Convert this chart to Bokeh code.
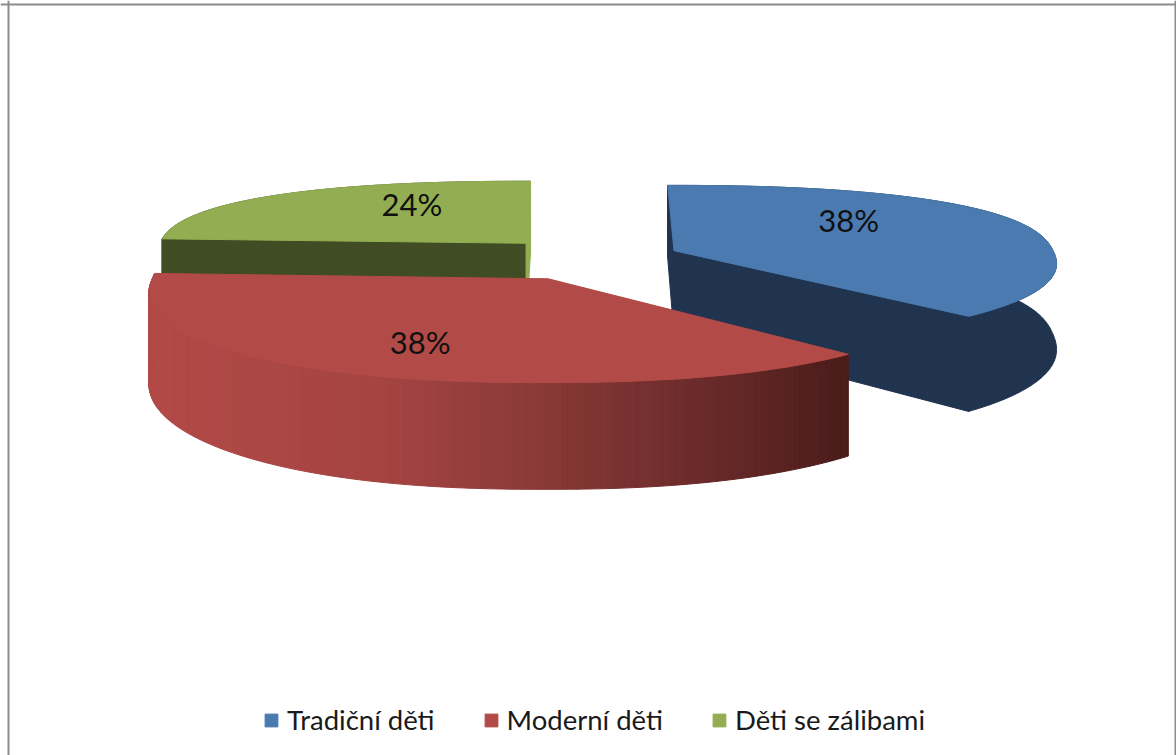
import math
from bokeh.plotting import figure
from bokeh.models import Legend, LegendItem, Span
from bokeh.core.properties import value
from bokeh.embed import file_html
from bokeh.resources import INLINE

categories = ["Tradiční děti", "Moderní děti", "Děti se zálibami"]
shares = [38, 38, 24]
percent_labels = ["38%", "38%", "24%"]

top_colors = ["#4a7ab0", "#b24a47", "#93ae52"]
side_colors = ["#20334f", "#b24a47", "#404c24"]
FRAME = "#8c8c8c"

# projection of the tilted pie
START_DEG = 270.0
VX, VY = 588.0, 258.0
SCALE_X, SCALE_Y, SCALE_Z = 396.0, 81.0, 85.0
VIEW_X, VIEW_Y = 12.0, 6.0
EXPLODE = 0.266
EXPLODE_X = 0.88
RADIUS = [0.965, 0.98, 0.94]
ROUNDNESS = 2.3
LABEL_R = [0.625, 0.704, 0.647]
LABEL_ANGLE = [318.4, 114.7, 241.0]


def project(x, y, z=0.0):
    sx = VIEW_X / (VIEW_X - y)
    sy = VIEW_Y / (VIEW_Y - y)
    return VX + SCALE_X * x * sx, VY + SCALE_Y * y * sy + SCALE_Z * z * sy


def lerp_color(t):
    stops = [(0.0, (178, 74, 71)), (0.33, (165, 68, 66)), (0.55, (138, 58, 56)),
             (0.8, (105, 42, 41)), (1.0, (74, 28, 26))]
    for (t0, c0), (t1, c1) in zip(stops, stops[1:]):
        if t <= t1:
            f = (t - t0) / (t1 - t0)
            return "#%02x%02x%02x" % tuple(round(a + (b - a) * f) for a, b in zip(c0, c1))
    return "#4a1c1a"


p = figure(width=1176, height=755, x_range=(0, 1176), y_range=(755, 0),
           output_backend="svg", toolbar_location=None, min_border=0,
           x_axis_type=None, y_axis_type=None, background_fill_color="white",
           border_fill_color="white", outline_line_color=None)
p.grid.visible = False
p.add_layout(Span(location=8, dimension="height", line_color=FRAME, line_width=2))
p.add_layout(Span(location=1175, dimension="height", line_color=FRAME, line_width=2))
p.add_layout(Span(location=4, dimension="width", line_color=FRAME, line_width=2))

# slice geometry from the shares
spans = []
a = START_DEG
for v in shares:
    b = a + 360.0 * v / sum(shares)
    spans.append((a, b))
    a = b


def slice_center(i):
    mid = math.radians(sum(spans[i]) / 2)
    return EXPLODE * EXPLODE_X * math.cos(mid), EXPLODE * math.sin(mid)


def rim(i, n=180):
    cx, cy = slice_center(i)
    a0, a1 = spans[i]
    pts = []
    for k in range(n + 1):
        ang = math.radians(a0 + (a1 - a0) * k / n)
        c, s = math.cos(ang), math.sin(ang)
        r = RADIUS[i] * (abs(c) ** ROUNDNESS + abs(s) ** ROUNDNESS) ** (-1 / ROUNDNESS)
        pts.append((cx + r * c, cy + r * s))
    return pts


def face(points, color):
    xs, ys = zip(*points)
    return p.patch(list(xs), list(ys), fill_color=color, line_color=color, line_width=1)


def cut(center, edge, color):
    cx, cy = center
    ex, ey = edge
    face([project(cx, cy), project(ex, ey), project(ex, ey, 1), project(cx, cy, 1)], color)


renderers = {}
for i in [2, 0, 1]:  # back to front
    center = slice_center(i)
    ring = rim(i)
    # outer wall
    if i == 1:
        xs0 = [project(*pt)[0] for pt in ring]
        lo, hi = min(xs0), max(xs0)
        for k in range(len(ring) - 1):
            q0, q1 = ring[k], ring[k + 1]
            t = ((project(*q0)[0] + project(*q1)[0]) / 2 - lo) / (hi - lo)
            face([project(*q0), project(*q1), project(*q1, 1), project(*q0, 1)], lerp_color(t))
    else:
        face([project(*q) for q in ring] + [project(*q, 1) for q in reversed(ring)], side_colors[i])
        # cut faces: the green one facing away from the light stays light
        cut(center, ring[0], side_colors[i])
        cut(center, ring[-1], top_colors[i] if i == 2 else side_colors[i])
    # top face
    renderers[i] = face([project(*center)] + [project(*q) for q in ring], top_colors[i])

for i, txt in enumerate(percent_labels):
    cx, cy = slice_center(i)
    ang = math.radians(LABEL_ANGLE[i])
    lx, ly = project(cx + LABEL_R[i] * math.cos(ang), cy + LABEL_R[i] * math.sin(ang))
    p.text([lx], [ly], text=[txt], text_font=value("Lato"), text_font_size="31px",
           text_color="#101010", text_align="center", text_baseline="middle")

legend = Legend(items=[LegendItem(label=value(c), renderers=[renderers[i]]) for i, c in enumerate(categories)],
                orientation="horizontal", location=(263, 19), border_line_color=None,
                background_fill_alpha=0, margin=0, padding=0, spacing=48,
                glyph_width=16, glyph_height=16, label_standoff=8,
                label_text_font="Lato", label_text_font_size="27.5px", label_text_color="#1a1a1a")
p.add_layout(legend, "center")

open("out.html", "w").write(file_html(p, INLINE))
